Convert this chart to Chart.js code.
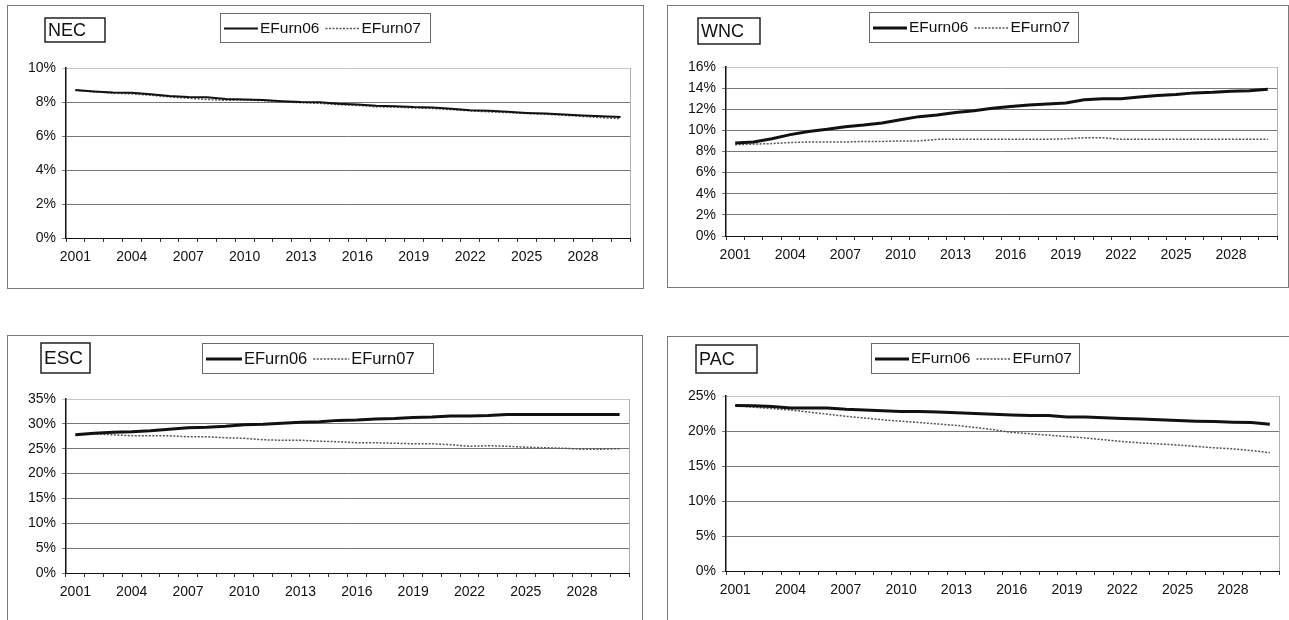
<!DOCTYPE html>
<html>
<head>
<meta charset="utf-8">
<script src="https://cdn.jsdelivr.net/npm/chart.js@4.4.0/dist/chart.umd.min.js"></script>
<style>
  body { margin: 0; background: #fff; width: 1289px; height: 620px; overflow: hidden; position: relative; }
  canvas { position: absolute; }
</style>
</head>
<body>
<canvas id="nec" width="637" height="284" style="left:7px;top:5px"></canvas>
<canvas id="wnc" width="622" height="283" style="left:667px;top:5px"></canvas>
<canvas id="esc" width="636" height="290" style="left:7px;top:335px"></canvas>
<canvas id="pac" width="630" height="290" style="left:667px;top:336px"></canvas>
<script>
var years = ['2001','2002','2003','2004','2005','2006','2007','2008','2009','2010',
             '2011','2012','2013','2014','2015','2016','2017','2018','2019','2020',
             '2021','2022','2023','2024','2025','2026','2027','2028','2029','2030'];
var shownYears = ['2001','2004','2007','2010','2013','2016','2019','2022','2025','2028'];
var seriesNames = ['EFurn06', 'EFurn07'];

// shares in percent, one value per year
var necEFurn06 = [8.70,8.62,8.56,8.55,8.45,8.35,8.30,8.28,8.18,8.15,8.12,8.05,8.00,7.98,7.90,7.85,7.78,7.75,7.70,7.68,7.60,7.52,7.48,7.42,7.36,7.32,7.26,7.20,7.16,7.12];
var necEFurn07 = [8.68,8.60,8.52,8.48,8.40,8.30,8.22,8.15,8.10,8.12,8.08,8.00,7.96,7.92,7.85,7.80,7.72,7.70,7.65,7.62,7.55,7.48,7.42,7.38,7.32,7.28,7.22,7.15,7.08,7.02];

var wncEFurn06 = [8.8,8.9,9.2,9.6,9.9,10.1,10.35,10.5,10.7,11.0,11.3,11.45,11.7,11.85,12.1,12.25,12.4,12.5,12.6,12.9,13.0,13.0,13.15,13.3,13.4,13.55,13.6,13.7,13.75,13.9];
var wncEFurn07 = [8.65,8.7,8.75,8.85,8.9,8.9,8.9,8.95,8.95,9.0,9.0,9.15,9.15,9.15,9.15,9.15,9.15,9.15,9.2,9.3,9.3,9.15,9.15,9.15,9.15,9.15,9.15,9.15,9.15,9.15];

var escEFurn06 = [27.8,28.1,28.3,28.4,28.6,28.9,29.2,29.3,29.5,29.8,29.9,30.1,30.3,30.4,30.7,30.8,31.0,31.1,31.3,31.4,31.6,31.6,31.7,31.9,31.9,31.9,31.9,31.9,31.9,31.9];
var escEFurn07 = [27.8,28.0,27.8,27.6,27.6,27.6,27.4,27.4,27.2,27.1,26.8,26.7,26.7,26.5,26.4,26.2,26.2,26.1,26.0,26.0,25.8,25.5,25.6,25.5,25.3,25.2,25.1,24.9,24.9,25.0];

var pacEFurn06 = [23.65,23.6,23.5,23.3,23.3,23.3,23.1,23.0,22.9,22.8,22.8,22.7,22.6,22.5,22.4,22.3,22.2,22.2,22.0,22.0,21.9,21.8,21.7,21.6,21.5,21.4,21.35,21.25,21.2,20.95];
var pacEFurn07 = [23.65,23.4,23.2,23.0,22.7,22.4,22.1,21.85,21.6,21.4,21.2,21.0,20.8,20.5,20.2,19.8,19.6,19.4,19.2,19.0,18.75,18.5,18.3,18.15,18.0,17.8,17.6,17.45,17.2,16.9];

var FONT = '"Liberation Sans", Arial, sans-serif';

// outer frame, plot edge, region name box and boxed legend
var panelDecor = {
    id: 'panelDecor',
    afterDraw: function(chart, args, opts) {
        var ctx = chart.ctx;
        var w = chart.width, h = chart.height;
        var area = chart.chartArea;
        ctx.save();
        ctx.strokeStyle = '#7a7a7a';
        ctx.lineWidth = 1;
        ctx.strokeRect(0.5, 0.5, w - 1, h - 1);

        ctx.strokeStyle = '#b0b0b0';
        ctx.beginPath();
        ctx.moveTo(Math.round(area.right) + 0.5, area.top);
        ctx.lineTo(Math.round(area.right) + 0.5, area.bottom);
        ctx.stroke();

        var t = opts.title;
        ctx.fillStyle = '#fff';
        ctx.fillRect(t.x, t.y, t.w, t.h);
        ctx.strokeStyle = '#222';
        ctx.lineWidth = 1.5;
        ctx.strokeRect(t.x, t.y, t.w, t.h);
        ctx.fillStyle = '#111';
        ctx.font = t.size + 'px ' + FONT;
        ctx.textBaseline = 'middle';
        ctx.textAlign = 'left';
        ctx.fillText(t.text, t.x + 3, t.y + t.h / 2 + 1);

        var l = opts.legend;
        ctx.fillStyle = '#fff';
        ctx.fillRect(l.x, l.y, l.w, l.h);
        ctx.strokeStyle = '#6a6a6a';
        ctx.lineWidth = 1;
        ctx.strokeRect(l.x + 0.5, l.y + 0.5, l.w, l.h);
        ctx.font = l.size + 'px ' + FONT;
        var cx = l.x + 4;
        var cy = l.y + l.h / 2 + 1;
        chart.data.datasets.forEach(function(ds) {
            ctx.save();
            ctx.strokeStyle = ds.borderColor;
            ctx.lineWidth = ds.borderWidth;
            ctx.setLineDash(ds.borderDash || []);
            ctx.beginPath();
            ctx.moveTo(cx, cy);
            ctx.lineTo(cx + l.line, cy);
            ctx.stroke();
            ctx.restore();
            cx += l.line + 2;
            ctx.fillStyle = '#111';
            ctx.fillText(ds.label, cx, cy);
            cx += ctx.measureText(ds.label).width + 6;
        });
        ctx.restore();
    }
};

function makePanel(id, s06, s07, yMax, yStep, plot, title, legend, thick) {
    var canvas = document.getElementById(id);
    var w = canvas.width, h = canvas.height;
    return new Chart(canvas, {
        type: 'line',
        data: {
            labels: years,
            datasets: [{
                label: seriesNames[0],
                data: s06,
                borderColor: '#111',
                borderWidth: thick,
                pointRadius: 0,
                tension: 0
            }, {
                label: seriesNames[1],
                data: s07,
                borderColor: '#555',
                borderWidth: 1.5,
                borderDash: [2, 1.5],
                pointRadius: 0,
                tension: 0
            }]
        },
        options: {
            responsive: false,
            animation: false,
            layout: { padding: { left: 0, top: plot.top, right: w - plot.right, bottom: 0 } },
            plugins: {
                legend: { display: false },
                tooltip: { enabled: false },
                panelDecor: { title: title, legend: legend }
            },
            scales: {
                x: {
                    offset: true,
                    grid: { offset: true, drawOnChartArea: false, tickLength: 4, color: '#333' },
                    border: { color: '#111', width: 1 },
                    ticks: {
                        autoSkip: false,
                        maxRotation: 0,
                        padding: 7,
                        color: '#111',
                        font: { family: FONT, size: 14 },
                        callback: function(v, i) {
                            return shownYears.indexOf(years[i]) >= 0 ? years[i] : '';
                        }
                    },
                    afterFit: function(s) { s.height = h - plot.bottom; }
                },
                y: {
                    min: 0,
                    max: yMax,
                    grid: {
                        tickLength: 4,
                        color: function(c) { return c.tick && c.tick.value === yMax ? '#c6c6c6' : '#777'; }
                    },
                    border: { color: '#111', width: 1.5 },
                    ticks: {
                        stepSize: yStep,
                        padding: 6,
                        color: '#111',
                        font: { family: FONT, size: 14 },
                        callback: function(v) { return v + '%'; }
                    },
                    afterFit: function(s) { s.width = plot.left; }
                }
            }
        },
        plugins: [panelDecor]
    });
}

makePanel('nec', necEFurn06, necEFurn07, 10, 2,
    { left: 59, right: 623, top: 63, bottom: 233 },
    { text: 'NEC', x: 38, y: 13, w: 60, h: 24, size: 18 },
    { x: 213, y: 8, w: 210, h: 29, line: 34, size: 15.5 }, 2);

makePanel('wnc', wncEFurn06, wncEFurn07, 16, 2,
    { left: 59, right: 610, top: 62, bottom: 231 },
    { text: 'WNC', x: 31, y: 13, w: 62, h: 26, size: 18 },
    { x: 202, y: 7, w: 209, h: 30, line: 34, size: 15.5 }, 3);

makePanel('esc', escEFurn06, escEFurn07, 35, 5,
    { left: 59, right: 622, top: 64, bottom: 238 },
    { text: 'ESC', x: 34, y: 8, w: 49, h: 30, size: 19 },
    { x: 195, y: 8, w: 231, h: 30, line: 36, size: 16.5 }, 3);

makePanel('pac', pacEFurn06, pacEFurn07, 25, 5,
    { left: 59, right: 612, top: 60, bottom: 235 },
    { text: 'PAC', x: 29, y: 9, w: 61, h: 28, size: 18 },
    { x: 204, y: 7, w: 208, h: 30, line: 34, size: 15.5 }, 3);
</script>
</body>
</html>
